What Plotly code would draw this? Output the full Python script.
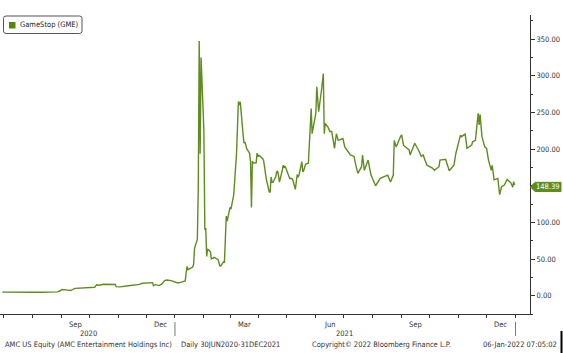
import plotly.graph_objects as go

# ---------------- data ----------------
dates = [
    "2020-06-30","2020-07-07","2020-07-14","2020-07-21","2020-07-28","2020-08-04","2020-08-11",
    "2020-08-18","2020-08-25","2020-08-28","2020-08-31","2020-09-02","2020-09-08","2020-09-11",
    "2020-09-16","2020-09-22","2020-09-25","2020-10-02","2020-10-07","2020-10-09","2020-10-12",
    "2020-10-16","2020-10-23","2020-10-29","2020-10-30","2020-11-03","2020-11-10","2020-11-17",
    "2020-11-24","2020-11-27","2020-12-03","2020-12-08","2020-12-09","2020-12-11","2020-12-15",
    "2020-12-18","2020-12-21","2020-12-23","2020-12-28","2020-12-31","2021-01-04","2021-01-08",
    "2021-01-11","2021-01-12","2021-01-13","2021-01-14","2021-01-15","2021-01-19","2021-01-20",
    "2021-01-21","2021-01-22","2021-01-25","2021-01-26","2021-01-27","2021-01-28","2021-01-29",
    "2021-02-01","2021-02-02","2021-02-03","2021-02-04","2021-02-05","2021-02-08","2021-02-09",
    "2021-02-10","2021-02-11","2021-02-12","2021-02-16","2021-02-17","2021-02-18","2021-02-19",
    "2021-02-22","2021-02-23","2021-02-24","2021-02-25","2021-02-26","2021-03-01","2021-03-02",
    "2021-03-03","2021-03-04","2021-03-05","2021-03-08","2021-03-09","2021-03-10","2021-03-11",
    "2021-03-12","2021-03-15","2021-03-16","2021-03-17","2021-03-18","2021-03-19","2021-03-22",
    "2021-03-23","2021-03-24","2021-03-25","2021-03-26","2021-03-29","2021-03-30","2021-03-31",
    "2021-04-01","2021-04-05","2021-04-06","2021-04-07","2021-04-08","2021-04-09","2021-04-12",
    "2021-04-13","2021-04-14","2021-04-15","2021-04-16","2021-04-19","2021-04-20","2021-04-21",
    "2021-04-22","2021-04-23","2021-04-26","2021-04-27","2021-04-28","2021-04-29","2021-04-30",
    "2021-05-03","2021-05-04","2021-05-05","2021-05-06","2021-05-07","2021-05-10","2021-05-11",
    "2021-05-12","2021-05-13","2021-05-14","2021-05-17","2021-05-18","2021-05-19","2021-05-20",
    "2021-05-21","2021-05-24","2021-05-25","2021-05-26","2021-05-27","2021-05-28","2021-06-01",
    "2021-06-02","2021-06-03","2021-06-04","2021-06-07","2021-06-08","2021-06-09","2021-06-10",
    "2021-06-11","2021-06-14","2021-06-16","2021-06-18","2021-06-21","2021-06-23","2021-06-25",
    "2021-06-30","2021-07-02","2021-07-08","2021-07-12","2021-07-13","2021-07-16","2021-07-20",
    "2021-07-21","2021-07-23","2021-07-27","2021-07-30","2021-08-04","2021-08-09","2021-08-13",
    "2021-08-17","2021-08-20","2021-08-23","2021-08-24","2021-08-26","2021-08-31","2021-09-01",
    "2021-09-03","2021-09-09","2021-09-10","2021-09-15","2021-09-20","2021-09-22","2021-09-24",
    "2021-09-28","2021-10-04","2021-10-06","2021-10-11","2021-10-12","2021-10-18","2021-10-22",
    "2021-10-27","2021-10-29","2021-11-03","2021-11-04","2021-11-08","2021-11-10","2021-11-15",
    "2021-11-16","2021-11-19","2021-11-22","2021-11-23","2021-11-24","2021-11-26","2021-11-29",
    "2021-12-01","2021-12-03","2021-12-06","2021-12-07","2021-12-09","2021-12-13","2021-12-15",
    "2021-12-17","2021-12-20","2021-12-23","2021-12-27","2021-12-29","2021-12-30","2021-12-31",
]
gme = [
    4.8, 4.6, 4.7, 4.5, 4.6, 4.6, 4.7,
    4.8, 5.0, 5.2, 6.7, 8.5, 7.6, 7.0,
    10.0, 10.5, 10.9, 11.4, 11.4, 15.0, 14.3,
    15.5, 15.5, 15.2, 12.3, 12.0, 13.2, 14.1,
    15.5, 16.9, 17.8, 17.8, 13.7, 15.0, 13.8,
    16.0, 20.5, 21.4, 20.5, 18.8, 17.3, 18.5,
    19.9, 20.0, 31.4, 39.9, 35.5, 39.4, 39.1,
    43.0, 65.0, 76.8, 148.0, 347.5, 193.6, 325.0,
    225.0, 90.0, 92.4, 53.5, 63.8, 60.0, 50.3,
    51.2, 51.1, 52.4, 49.5, 45.9, 40.7, 40.6,
    46.0, 45.0, 91.7, 108.7, 101.7, 120.4, 118.2,
    124.2, 132.4, 137.7, 194.5, 246.9, 265.0, 260.0,
    264.5, 220.1, 208.2, 209.8, 201.8, 200.3, 194.5,
    181.8, 120.3, 183.8, 181.0, 181.3, 194.5, 189.8,
    191.5, 187.0, 184.5, 176.2, 167.0, 158.4, 142.0,
    141.0, 162.0, 155.0, 154.7, 162.0, 169.0, 170.3,
    163.4, 155.0, 171.1, 178.0, 175.2, 176.3, 173.6,
    162.1, 160.0, 160.2, 159.2, 159.1, 145.0, 161.5,
    165.3, 161.5, 165.0, 183.0, 168.8, 171.0, 176.9,
    179.3, 181.0, 207.7, 250.0, 255.5, 221.0, 248.9,
    285.0, 258.0, 251.0, 280.0, 294.0, 303.0, 221.0,
    235.0, 230.0, 224.0, 224.0, 201.0, 221.0, 212.0,
    214.5, 203.0, 192.0, 190.0, 183.0, 167.0, 176.0,
    192.0, 171.0, 185.0, 165.0, 150.0, 160.0, 162.0,
    164.5, 155.0, 164.5, 212.0, 203.0, 218.0, 219.0,
    205.0, 199.0, 192.0, 208.0, 196.0, 190.0, 192.0,
    178.0, 174.0, 171.0, 176.0, 185.0, 186.0, 170.5,
    178.0, 194.0, 219.0, 217.0, 220.5, 201.0, 205.5,
    210.0, 212.0, 248.7, 233.0, 247.0, 217.0, 203.0,
    201.0, 185.0, 171.0, 178.0, 158.0, 160.0, 138.0,
    148.6, 151.0, 158.7, 154.0, 148.0, 155.5, 151.0,
]
last_price = 148.39
y_ticks = [0, 50, 100, 150, 200, 250, 300, 350]
month_ticks = ["2020-07-01","2020-08-01","2020-09-01","2020-10-01","2020-11-01","2020-12-01",
               "2021-01-01","2021-02-01","2021-03-01","2021-04-01","2021-05-01","2021-06-01",
               "2021-07-01","2021-08-01","2021-09-01","2021-10-01","2021-11-01","2021-12-01",
               "2022-01-01"]
month_labels = ["Sep", "Dec", "Mar", "Jun", "Sep", "Dec"]
month_label_dates = ["2020-09-16","2020-12-16","2021-03-16","2021-06-16","2021-09-16","2021-12-16"]
year_labels = ["2020", "2021"]
year_label_dates = ["2020-09-30 12:00", "2021-07-02"]
year_bounds = ["2021-01-01", "2022-01-01"]
footer = ["AMC US Equity (AMC Entertainment Holdings Inc)", "Daily 30JUN2020-31DEC2021",
          "Copyright\u00a9 2022 Bloomberg Finance L.P.", "06-Jan-2022 07:05:02"]
footer_px = [3, 179, 310, 559]
footer_anchor = ["left", "left", "left", "right"]

# ---------------- style ----------------
W, H = 563, 353
L, R, T, B = 0, 33, 15, 39
PW, PH = W - L - R, H - T - B
GREEN = "#5e8c1f"
FONT = "DejaVu Sans Condensed, DejaVu Sans"
TXT = "#333333"

def px(xp):
    return (xp - L) / PW

def py(yp):
    return (H - B - yp) / PH

fig = go.Figure()
fig.add_trace(go.Scatter(x=dates, y=gme, mode="lines",
                         line=dict(color=GREEN, width=1.4), showlegend=False,
                         name="GameStop (GME)"))

ann = []
shapes = []
for lab, d in zip(month_labels, month_label_dates):
    ann.append(dict(x=d, xref="x", y=py(324.5), yref="paper", text=lab, showarrow=False,
                    xanchor="center", yanchor="middle", font=dict(family=FONT, size=7.5, color=TXT)))
for lab, d in zip(year_labels, year_label_dates):
    ann.append(dict(x=d, xref="x", y=py(333.5), yref="paper", text=lab, showarrow=False,
                    xanchor="center", yanchor="middle", font=dict(family=FONT, size=7.5, color=TXT)))
for d in year_bounds:
    shapes.append(dict(type="line", xref="x", yref="paper", x0=d, x1=d, y0=py(322), y1=py(336),
                       line=dict(color="#777777", width=1)))
for t, xp, an in zip(footer, footer_px, footer_anchor):
    ann.append(dict(x=px(xp), xref="paper", y=py(344), yref="paper", text=t, showarrow=False,
                    xanchor=an, yanchor="middle", font=dict(family=FONT, size=7.5, color=TXT)))
# cursor-like bar at bottom right
shapes.append(dict(type="rect", xref="paper", yref="paper", x0=px(560.5), x1=px(562.5),
                   y0=py(353), y1=py(331), line=dict(width=0), fillcolor="#000000"))

# legend box (rounded)
x0, x1, y0, y1, r = 3.5, 82, 16, 33.5, 2.5
path = (f"M {px(x0+r)},{py(y0)} L {px(x1-r)},{py(y0)} Q {px(x1)},{py(y0)} {px(x1)},{py(y0+r)} "
        f"L {px(x1)},{py(y1-r)} Q {px(x1)},{py(y1)} {px(x1-r)},{py(y1)} "
        f"L {px(x0+r)},{py(y1)} Q {px(x0)},{py(y1)} {px(x0)},{py(y1-r)} "
        f"L {px(x0)},{py(y0+r)} Q {px(x0)},{py(y0)} {px(x0+r)},{py(y0)} Z")
shapes.append(dict(type="path", xref="paper", yref="paper", path=path,
                   line=dict(color="#555555", width=1), fillcolor="white"))
shapes.append(dict(type="rect", xref="paper", yref="paper", x0=px(9), x1=px(15.5),
                   y0=py(28.5), y1=py(22), line=dict(width=0), fillcolor="#4f8a0b"))
ann.append(dict(x=px(17.5), xref="paper", y=py(25), yref="paper", text="GameStop (GME)",
                showarrow=False, xanchor="left", yanchor="middle",
                font=dict(family=FONT, size=7.5, color="#222222")))

# last price tag
hh = 4.6 / (PH / 408.0)
tip, bx0, bx1 = px(530.5), px(535), px(561)
tag = (f"M {tip},{last_price} L {bx0},{last_price+hh} L {bx1},{last_price+hh} "
       f"L {bx1},{last_price-hh} L {bx0},{last_price-hh} Z")
shapes.append(dict(type="path", xref="paper", yref="y", path=tag,
                   line=dict(color=GREEN, width=1), fillcolor=GREEN))
ann.append(dict(x=(bx0 + bx1) / 2, xref="paper", y=last_price, yref="y", text=f"{last_price:.2f}",
                showarrow=False, xanchor="center", yanchor="middle",
                font=dict(family=FONT, size=7.5, color="white")))

fig.update_layout(
    width=W, height=H, margin=dict(l=L, r=R, t=T, b=B, pad=0),
    paper_bgcolor="white", plot_bgcolor="white", showlegend=False,
    xaxis=dict(type="date", range=["2020-06-27 12:00", "2022-01-16 12:00"],
               showgrid=False, zeroline=False, showline=True, linecolor="#333333", linewidth=1,
               ticks="outside", ticklen=3, tickcolor="#333333", tickvals=month_ticks,
               showticklabels=False),
    yaxis=dict(side="right", range=[-25, 383], showgrid=False, zeroline=False, showline=True,
               linecolor="#333333", linewidth=1, ticks="outside", ticklen=4, tickcolor="#333333",
               tickvals=y_ticks, ticktext=[f"{v:.2f}" for v in y_ticks],
               tickfont=dict(family=FONT, size=7.5, color=TXT),
               minor=dict(ticks="outside", ticklen=2, tickcolor="#333333", dtick=25, tick0=-25)),
    annotations=ann, shapes=shapes,
)
fig.write_html("out.html")
